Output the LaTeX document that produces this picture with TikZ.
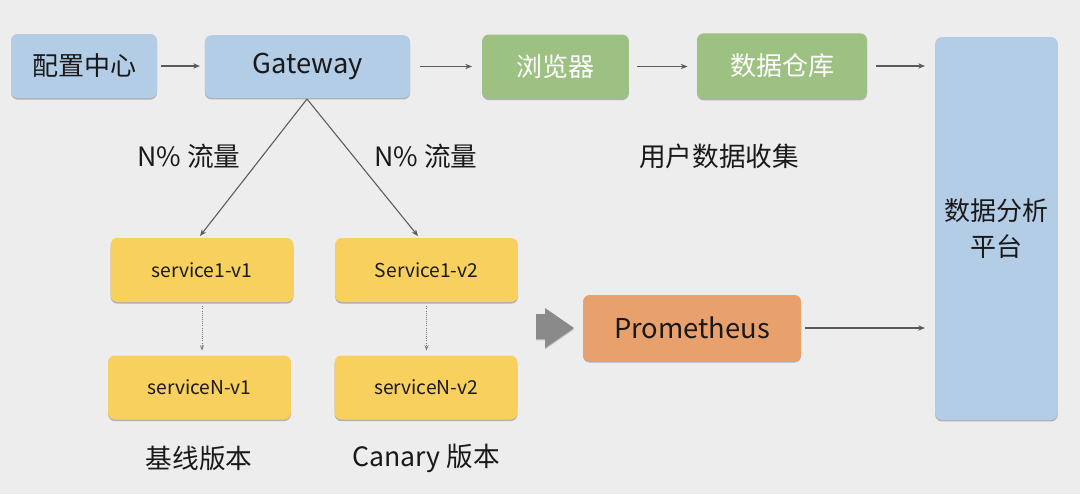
\documentclass[tikz,border=0pt]{standalone}
\usepackage{fontspec}
\setmainfont{Noto Sans CJK SC}
\usetikzlibrary{arrows.meta,shadows}
\definecolor{bg}{HTML}{EDEDED}
\definecolor{cblue}{HTML}{B3CDE7}
\definecolor{cgreen}{HTML}{9DC183}
\definecolor{cyellow}{HTML}{F7D05E}
\definecolor{corange}{HTML}{E8A06C}
\definecolor{cline}{HTML}{5A5A5A}
\definecolor{cgray}{HTML}{8A8A8A}
\tikzset{
  box/.style={draw=none, rounded corners=5pt, inner sep=0pt, align=center, text=black!90,
    drop shadow={shadow xshift=0pt, shadow yshift=-1.2pt, opacity=0.25, fill=black}},
  bigtxt/.style={font=\fontsize{19.5}{22}\selectfont},
  conn/.style={draw=cline, line width=0.8pt, -{Stealth[length=5pt,width=4pt]}},
  dconn/.style={draw=cline!80, line width=0.6pt, densely dotted, -{Stealth[length=4pt,width=3pt]}},
  lbl/.style={font=\fontsize{20}{22}\selectfont, text=black!90},
  svc/.style={box, fill=cyellow, minimum width=137pt, minimum height=48pt, font=\fontsize{14.4}{16}\selectfont},
  blockarrow/.style={fill=cgray, drop shadow={shadow xshift=0pt, shadow yshift=-1pt, opacity=0.2, fill=black}},
}
\begin{document}
\begin{tikzpicture}[x=0.75pt,y=-0.75pt]
\fill[bg] (0,0) rectangle (1080,494);
\useasboundingbox (0,0) rectangle (1080,494);

\node[box, bigtxt, fill=cblue, minimum width=109.5pt, minimum height=48pt] (cfg) at (84,66) {配置中心};
\node[box, fill=cblue, minimum width=154pt, minimum height=47pt, font=\fontsize{20.5}{22}\selectfont] (gw) at (307.5,66.5) {Gateway};
\node[box, bigtxt, fill=cgreen, text=white, minimum width=110pt, minimum height=48pt] (br) at (555.5,66.5) {浏览器};
\node[box, bigtxt, fill=cgreen, text=white, minimum width=127.5pt, minimum height=49pt] (dw) at (782,66) {数据仓库};
\node[box, fill=cblue, minimum width=92pt, minimum height=287pt, font=\fontsize{19.5}{27}\selectfont] (pf) at (996.5,228.5) {数据分析\\平台};

\node[svc] (s1) at (202,270) {service1-v1};
\node[svc] (s2) at (426.5,270) {Service1-v2};
\node[svc] (n1) at (199.5,387.5) {serviceN-v1};
\node[svc] (n2) at (426,387.5) {serviceN-v2};

\node[box, fill=corange, minimum width=163.5pt, minimum height=49.5pt, font=\fontsize{20.5}{22}\selectfont] (pm) at (692,328) {Prometheus};

\path[blockarrow] (536,314) -- (545,314) -- (545,308) -- (574,328) -- (545,348) -- (545,339) -- (536,339) -- cycle;

\node[lbl] (l1) at (189,156) {N\% 流量};
\node[lbl] (l2) at (426,156) {N\% 流量};
\node[lbl] (l3) at (719,156) {用户数据收集};
\node[lbl] (l4) at (199,458) {基线版本};
\node[lbl] (l5) at (426,458) {Canary 版本};

\coordinate (gwb) at (307,99);
\coordinate (s1t) at (200,236);
\coordinate (s2t) at (418,236);

\draw[conn] ([xshift=2.5pt]cfg.east) -- ([xshift=-3.5pt]gw.west |- cfg.east);
\draw[conn] ([xshift=7.5pt]gw.east) -- ([xshift=-7.5pt]br.west |- gw.east);
\draw[conn] ([xshift=6pt]br.east) -- ([xshift=-7pt]dw.west |- br.east);
\draw[conn] ([xshift=6.5pt]dw.east) -- ([xshift=-7.5pt]pf.west |- dw.east);
\draw[conn] ([xshift=3pt]pm.east) -- ([xshift=-7.5pt]pf.west |- pm.east);
\draw[conn] (gwb) -- (s1t);
\draw[conn] (gwb) -- (s2t);
\draw[dconn] ([yshift=-3pt]s1.south) -- ([yshift=3.5pt]s1.south |- n1.north);
\draw[dconn] ([yshift=-3pt]s2.south) -- ([yshift=3.5pt]s2.south |- n2.north);
\end{tikzpicture}
\end{document}
